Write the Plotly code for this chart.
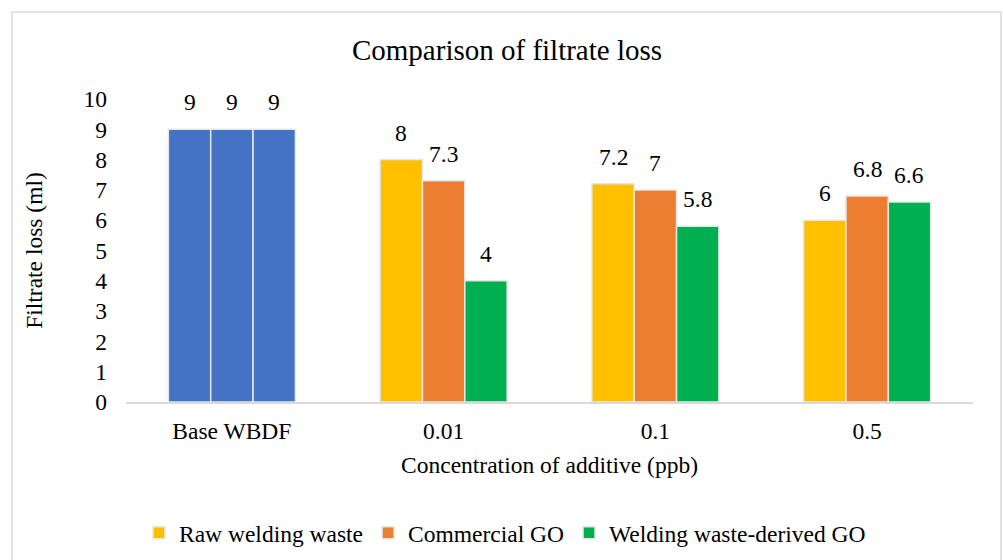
import plotly.graph_objects as go

# Filtrate loss (ml) by additive concentration (ppb)
categories = ["Base WBDF", "0.01", "0.1", "0.5"]
series_names = ["Raw welding waste", "Commercial GO", "Welding waste-derived GO"]
base_values = [9, 9, 9]
raw_waste = [8, 7.2, 6]
commercial_go = [7.3, 7, 6.8]
derived_go = [4, 5.8, 6.6]
y_ticks = list(range(0, 11))

series_values = [raw_waste, commercial_go, derived_go]
series_colors = ["#FFC000", "#ED7D31", "#00B050"]
base_color = "#4472C4"
edge = dict(color="#e6e6e6", width=1.5)

FONT = "Liberation Serif, Times New Roman, serif"
FS = 23.5
BARGAP = 0.4

fig = go.Figure()

for k, name in enumerate(series_names):
    # base fluid bar for this slot (blue, no legend entry)
    fig.add_trace(go.Bar(
        x=[categories[0]], y=[base_values[k]],
        offsetgroup=str(k), marker=dict(color=base_color, line=edge),
        showlegend=False, hoverinfo="x+y",
    ))
    fig.add_trace(go.Bar(
        x=categories[1:], y=series_values[k], name=name,
        offsetgroup=str(k), marker=dict(color=series_colors[k], line=edge),
    ))

# value labels above each bar
n = len(series_names)
w = (1 - BARGAP) / n
annotations = []
for ci, cat in enumerate(categories):
    for k in range(n):
        v = base_values[k] if ci == 0 else series_values[k][ci - 1]
        annotations.append(dict(
            x=ci + (k - (n - 1) / 2) * w, y=v, xref="x", yref="y",
            text=f"{v:g}", showarrow=False, yanchor="middle", yshift=27,
            font=dict(family=FONT, size=FS, color="#000"),
        ))

W, H = 1003, 560
L, R, T, B = 126, 30, 99, 158
pw, ph = W - L - R, H - T - B

# outer chart frame
frame = dict(
    type="rect", xref="paper", yref="paper",
    x0=(12 - L) / pw, x1=(1001 - L) / pw,
    y0=(H - B - 575) / ph, y1=(H - B - 12) / ph,
    line=dict(color="#d9d9d9", width=1.5), fillcolor="rgba(0,0,0,0)", layer="below",
)

fig.update_layout(
    width=W, height=H,
    margin=dict(l=L, r=R, t=T, b=B),
    paper_bgcolor="white", plot_bgcolor="white",
    barmode="group", bargap=BARGAP, bargroupgap=0,
    font=dict(family=FONT, size=FS, color="#000"),
    title=dict(text="Comparison of filtrate loss", x=507 / W, xref="container",
               xanchor="center", y=1 - 50 / H, yref="container", yanchor="middle",
               font=dict(family=FONT, size=29, color="#000")),
    xaxis=dict(type="category", categoryorder="array", categoryarray=categories,
               showline=True, linecolor="#d9d9d9", linewidth=1.5, showgrid=False,
               ticks="", ticklabelstandoff=7,
               tickfont=dict(family=FONT, size=FS, color="#000"),
               title=dict(text="Concentration of additive (ppb)", standoff=14,
                          font=dict(family=FONT, size=FS, color="#000"))),
    yaxis=dict(range=[0, 10], tickvals=y_ticks, showgrid=False, zeroline=False,
               showline=False, ticks="", ticklabelstandoff=18,
               tickfont=dict(family=FONT, size=FS, color="#000"),
               title=dict(text="Filtrate loss (ml)", standoff=34,
                          font=dict(family=FONT, size=FS, color="#000"))),
    legend=dict(orientation="h", xref="container", yref="container",
                x=505 / W, xanchor="center", y=1 - 533 / H, yanchor="middle",
                font=dict(family=FONT, size=FS, color="#000"),
                traceorder="normal", itemclick=False),
    annotations=annotations,
    shapes=[frame],
)

fig.write_html("out.html")
